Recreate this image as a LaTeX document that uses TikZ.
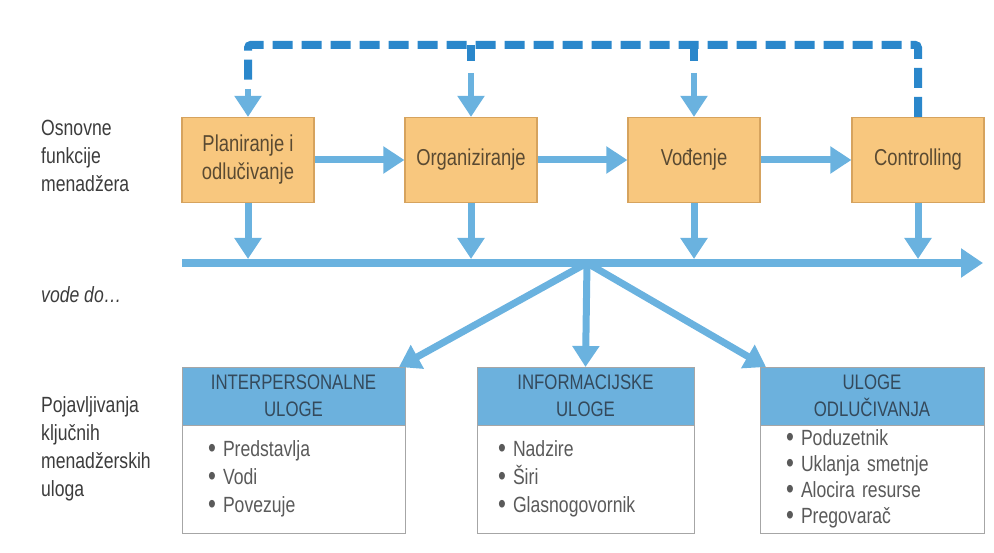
\documentclass[tikz,border=0pt]{standalone}
\usepackage{fontspec}
\setmainfont[FakeStretch=0.8]{Liberation Sans}
\usetikzlibrary{arrows.meta, positioning}

\definecolor{boxorange}{HTML}{F8C77E}
\definecolor{boxedge}{HTML}{D6A35E}
\definecolor{arrowblue}{HTML}{6AB2DF}
\definecolor{dashblue}{HTML}{2A87CB}
\definecolor{headblue}{HTML}{6CB1DD}
\definecolor{headtext}{HTML}{34495B}
\definecolor{labeltext}{HTML}{3C3C3C}
\definecolor{itemtext}{HTML}{5A5A5A}
\definecolor{functext}{HTML}{5A4A32}

\newcommand{\bul}{\makebox[15pt][l]{\smash{\fontsize{28}{28}\selectfont\raisebox{-1pt}{•}}}}

\begin{document}
\begin{tikzpicture}[x=1pt,y=1pt,>={Triangle[width=26pt,length=21pt]},
  func node/.style={rectangle,draw=boxedge,line width=1.2pt,fill=boxorange,minimum width=132pt,minimum height=85pt,align=center,text=functext,font=\fontsize{23}{28}\selectfont},
  label node/.style={anchor=west,align=left,text=labeltext,inner sep=0pt,font=\fontsize{22}{28}\selectfont},
  head node/.style={rectangle,fill=headblue,draw=gray!70,line width=0.8pt,minimum height=58pt,align=center,text=headtext,inner sep=0pt,outer sep=0pt,font=\fontsize{21}{27}\selectfont},
  body node/.style={rectangle,draw=gray!70,fill=white,line width=0.8pt,minimum height=108pt,align=left,text=itemtext,inner xsep=26pt,inner ysep=2pt,outer sep=0pt,font=\fontsize{22}{28}\selectfont},
  flow/.style={->,arrowblue,line width=7pt},
  feedback/.style={dashblue,line width=8pt,dash pattern=on 20pt off 9pt}]

    \useasboundingbox (0,0) rectangle (994,553);

    \node[label node] (osnLbl) at (41,397) {Osnovne\\funkcije\\menadžera};
    \node[label node,font=\fontsize{22}{28}\selectfont\itshape] (vodeLbl) at (41,258) {vode do\ldots};
    \node[label node] (pojLbl) at (41,104) {Pojavljivanja\\ključnih\\menadžerskih\\uloga};

    \node[func node] (plan) at (248,393) {Planiranje i\\odlučivanje};
    \node[func node] (org) at (471,393) {Organiziranje};
    \node[func node] (vod) at (694,393) {Vođenje};
    \node[func node] (ctrl) at (918,393) {Controlling};

    \draw[flow] (plan) -- (org);
    \draw[flow] (org) -- (vod);
    \draw[flow] (vod) -- (ctrl);

    \draw[feedback,rounded corners=3pt] (ctrl.north) -- ([yshift=72pt]ctrl.north) -- ([yshift=72pt]plan.north) -- ([yshift=30pt]plan.north);
    \draw[flow,line width=6pt] ([yshift=28pt]plan.north) -- (plan.north);
    \draw[feedback] ([yshift=72pt]org.north) -- ([yshift=56pt]org.north);
    \draw[flow,line width=6pt] ([yshift=44pt]org.north) -- (org.north);
    \draw[feedback] ([yshift=72pt]vod.north) -- ([yshift=56pt]vod.north);
    \draw[flow,line width=6pt] ([yshift=44pt]vod.north) -- (vod.north);

    \coordinate (busL) at (182,290);
    \coordinate (busR) at (983,290);
    \coordinate (hub) at (587,290);
    \draw[flow,line width=8pt,>={Triangle[width=28pt,length=22pt]}] (busL) -- (busR);

    \draw[flow,shorten >=4pt] (plan.south) -- (plan.south |- busL);
    \draw[flow,shorten >=4pt] (org.south) -- (org.south |- busL);
    \draw[flow,shorten >=4pt] (vod.south) -- (vod.south |- busL);
    \draw[flow,shorten >=4pt] (ctrl.south) -- (ctrl.south |- busL);

    \node[head node,minimum width=223pt] (interH) at (293.5,157) {INTERPERSONALNE\\ULOGE};
    \node[body node,text width=171pt,below=0pt of interH] (interB) {\bul Predstavlja\\\bul Vodi\\\bul Povezuje};

    \node[head node,minimum width=217pt] (infoH) at (585.5,157) {INFORMACIJSKE\\ULOGE};
    \node[body node,text width=175pt,inner xsep=21pt,below=0pt of infoH] (infoB) {\bul Nadzire\\\bul Širi\\\bul Glasnogovornik};

    \node[head node,minimum width=224pt] (odlH) at (872,157) {ULOGE\\ODLUČIVANJA};
    \node[body node,text width=172pt,font=\fontsize{22}{26}\selectfont,below=0pt of odlH] (odlB) {\bul Poduzetnik\\\bul Uklanja smetnje\\\bul Alocira resurse\\\bul Pregovarač};

    \draw[flow] (hub) -- ([xshift=-6pt]interH.north east);
    \draw[flow] (hub) -- (infoH.north);
    \draw[flow] (hub) -- ([xshift=6pt]odlH.north west);

\end{tikzpicture}
\end{document}
